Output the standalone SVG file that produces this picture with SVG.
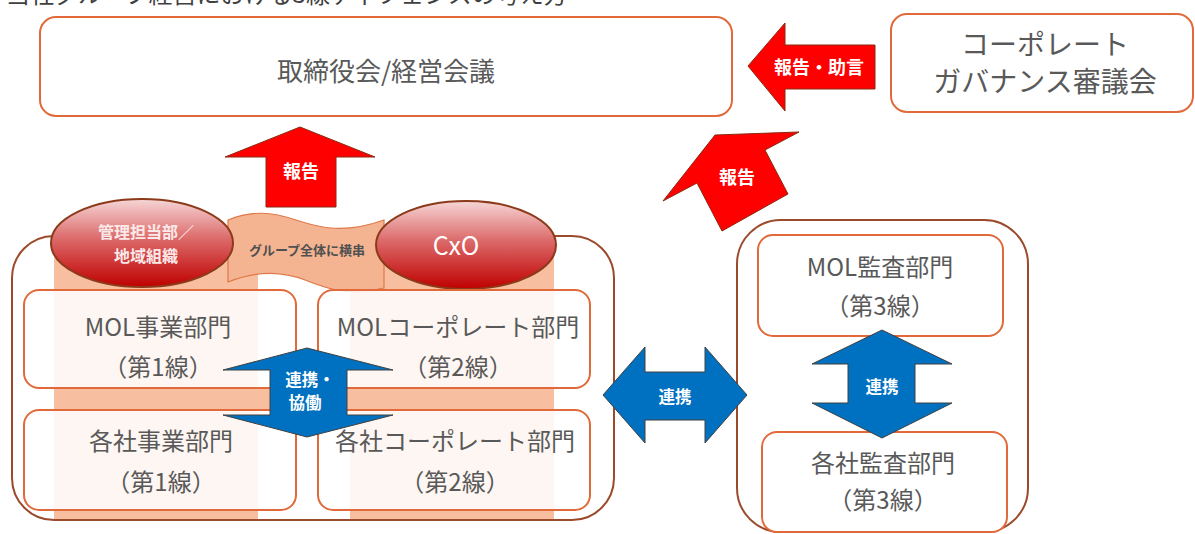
<svg xmlns="http://www.w3.org/2000/svg" width="1195" height="534" viewBox="0 0 1195 534">
<defs>
<linearGradient id="ellG" x1="0" y1="0" x2="0" y2="1">
<stop offset="0" stop-color="#F6D6D6"/>
<stop offset="0.45" stop-color="#DC6A6A"/>
<stop offset="1" stop-color="#C00000"/>
</linearGradient>
<style>
.t{font-family:"Noto Sans CJK JP","Noto Sans",sans-serif;fill:#595959;text-anchor:middle}
.w{font-family:"Noto Sans CJK JP","Noto Sans",sans-serif;fill:#ffffff;text-anchor:middle;font-weight:bold}
.box{fill:#ffffff;stroke:#E2693A;stroke-width:2}
.ibox{fill:#ffffff;fill-opacity:0.86;stroke:#E2693A;stroke-width:2}
.cont{fill:none;stroke:#9B4A2C;stroke-width:2}
.peach{fill:#F7BFA0}
.red{fill:#FF0000;stroke:#8B2A10;stroke-width:1}
.blue{fill:#0070C0;stroke:#404040;stroke-width:1}
.ell{fill:url(#ellG);stroke:#8B3A1A;stroke-width:2}
</style>
</defs>
<rect width="1195" height="534" fill="#ffffff"/>
<text class="t" x="6" y="3" style="text-anchor:start;font-size:24px;fill:#404040">当社グループ経営における3線ディフェンスの考え方</text>

<g id="board">
<rect class="box" x="40" y="17" width="692" height="99" rx="16"/>
<text class="t" x="386" y="81" font-size="26">取締役会/経営会議</text>
</g>

<g id="governance">
<rect class="box" x="891" y="14" width="302" height="98" rx="16"/>
<text class="t" x="1045" y="55" font-size="28">コーポレート</text>
<text class="t" x="1045" y="92" font-size="28">ガバナンス審議会</text>
</g>

<g id="left-container">
<rect class="peach" x="54" y="243" width="204" height="277"/>
<rect class="peach" x="350" y="245" width="204" height="275"/>
<rect class="peach" x="54" y="388" width="500" height="22"/>
<rect class="cont" x="12" y="236" width="602" height="284" rx="42"/>
</g>

<g id="band">
<path d="M228 220 C252 210 272 212 296 220 C320 228 345 234 384 220 L384 288 C350 296 330 290 305 280 C282 271 258 270 228 282 Z" fill="#F4B491" stroke="#E07848" stroke-width="1.2"/>
<text class="t" x="307" y="255" style="font-size:13px;font-weight:bold;fill:#505050">グループ全体に横串</text>
</g>

<g id="mgmt">
<ellipse class="ell" cx="142" cy="243" rx="91" ry="44"/>
<text class="w" x="146" y="238" style="font-size:16px;fill:#FBE9E9">管理担当部／</text>
<text class="w" x="146" y="262" style="font-size:16px;fill:#FBE9E9">地域組織</text>
</g>

<g id="cxo">
<ellipse class="ell" cx="466" cy="245" rx="90" ry="44"/>
<text class="w" x="456" y="255" style="font-size:25px;font-weight:normal">CxO</text>
</g>

<g id="mol-business">
<rect class="ibox" x="24" y="290" width="272" height="98" rx="15"/>
<text class="t" x="158" y="336" font-size="24">MOL事業部門</text>
<text class="t" x="158" y="376" font-size="24">（第1線）</text>
</g>

<g id="mol-corporate">
<rect class="ibox" x="318" y="290" width="272" height="98" rx="15"/>
<text class="t" x="458" y="336" font-size="24">MOLコーポレート部門</text>
<text class="t" x="458" y="376" font-size="24">（第2線）</text>
</g>

<g id="group-business">
<rect class="ibox" x="24" y="410" width="272" height="100" rx="15"/>
<text class="t" x="161" y="450" font-size="24">各社事業部門</text>
<text class="t" x="161" y="491" font-size="24">（第1線）</text>
</g>

<g id="group-corporate">
<rect class="ibox" x="318" y="410" width="272" height="100" rx="15"/>
<text class="t" x="455" y="450" font-size="24">各社コーポレート部門</text>
<text class="t" x="455" y="491" font-size="24">（第2線）</text>
</g>

<g id="audit-container">
<rect class="cont" x="737" y="220" width="291" height="312" rx="44"/>
</g>

<g id="mol-audit">
<rect class="box" x="758" y="235" width="245" height="101" rx="15"/>
<text class="t" x="880" y="276" font-size="24">MOL監査部門</text>
<text class="t" x="880" y="315" font-size="24">（第3線）</text>
</g>

<g id="group-audit">
<rect class="box" x="762" y="432" width="245" height="100" rx="15"/>
<text class="t" x="883" y="472" font-size="24">各社監査部門</text>
<text class="t" x="883" y="509" font-size="24">（第3線）</text>
</g>

<g id="connectors">
<g id="arrow-advice">
<polygon class="red" points="748,66 785,23 785,45 875,45 875,89 785,89 785,111"/>
<text class="w" x="819" y="74" font-size="18">報告・助言</text>
</g>
<g id="arrow-report-center">
<polygon class="red" points="300,127 375,157 336,157 336,207 266,207 266,157 225,157"/>
<text class="w" x="301" y="178" font-size="18">報告</text>
</g>
<g id="arrow-report-audit">
<polygon class="red" points="715,135 799,132 765,150 788,194 722,231 697,183 663,201"/>
<text class="w" x="737" y="184" font-size="18">報告</text>
</g>
<g id="arrow-collab">
<polygon class="blue" points="307,348 393,370 347,370 347,415 393,415 307,437 223,415 270,415 270,370 223,370"/>
<text class="w" x="310" y="386" font-size="16.5">連携・</text>
<text class="w" x="305" y="409" font-size="16.5">協働</text>
</g>
<g id="arrow-link-h">
<polygon class="blue" points="603,395 645,347 645,372 705,372 705,347 747,395 705,443 705,420 645,420 645,443"/>
<text class="w" x="675" y="403" font-size="16.5">連携</text>
</g>
<g id="arrow-link-v">
<polygon class="blue" points="882,330 952,364 915,364 915,403 952,403 882,438 812,403 848,403 848,364 812,364"/>
<text class="w" x="882" y="393" font-size="16.5">連携</text>
</g>
</g>
</svg>
